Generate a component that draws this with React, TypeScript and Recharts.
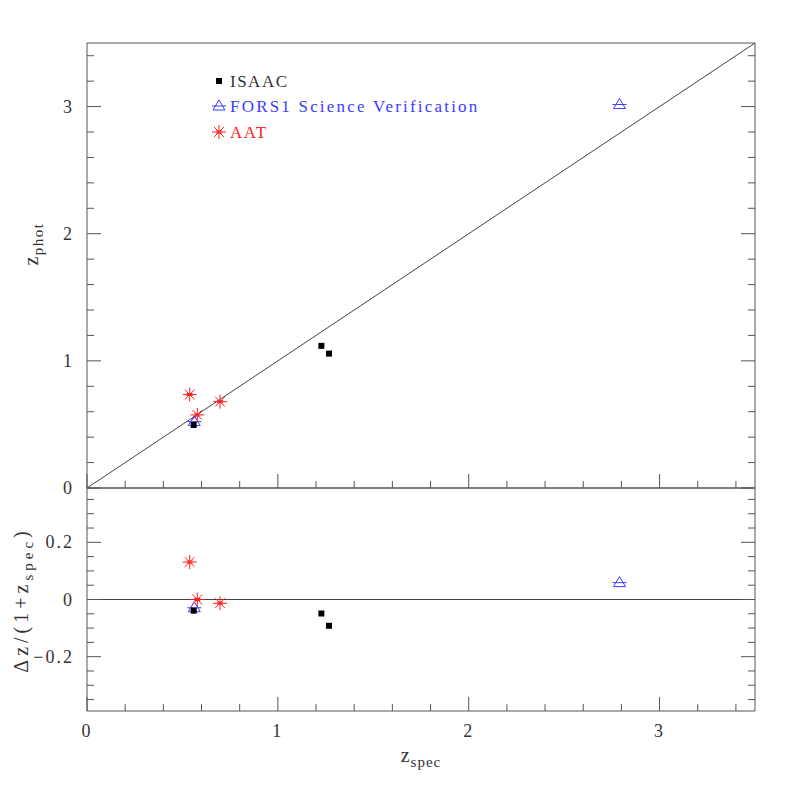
import React from 'react';
import { ScatterChart, Scatter, XAxis, YAxis, ReferenceLine } from 'recharts';

// spectroscopic z, photometric z, residual dz/(1+z)
const isaacSpec = [1.228, 1.268, 0.559];
const isaacPhot = [1.118, 1.057, 0.496];
const isaacResid = [-0.049, -0.092, -0.039];

const forsSpec = [0.562, 2.79];
const forsPhot = [0.522, 3.016];
const forsResid = [-0.029, 0.059];

const aatSpec = [0.538, 0.578, 0.697];
const aatPhot = [0.735, 0.575, 0.679];
const aatResid = [0.131, 0.0, -0.013];

const zTicks = [0, 0.2, 0.4, 0.6, 0.8, 1, 1.2, 1.4, 1.6, 1.8, 2, 2.2, 2.4, 2.6, 2.8, 3, 3.2, 3.4];
const zMajor = [0, 1, 2, 3];
const residTicks = [-0.35, -0.3, -0.25, -0.2, -0.15, -0.1, -0.05, 0, 0.05, 0.1, 0.15, 0.2, 0.25, 0.3, 0.35];
const residMajor = [-0.2, 0, 0.2];

const FRAME = '#555';
const TEXT = '#333';
const BLUE = '#3c3cff';
const RED = '#ff2020';
const FONT = '"Liberation Serif", "DejaVu Serif", serif';

const toPoints = (xs: number[], ys: number[]) => xs.map((x, i) => ({ x, y: ys[i] }));

const fmt = (v: number) => (v < 0 ? '\u2212' + String(-v) : String(v));

// inward tick marks, label outside for bottom/left
const Tick = (props: any) => {
  const { x, y, payload, side, majors, labels } = props;
  const v = payload.value;
  const major = majors.includes(v);
  const len = major ? 14 : 7;
  let line;
  if (side === 'bottom') line = <line x1={x} y1={y} x2={x} y2={y - len} stroke={FRAME} />;
  else if (side === 'top') line = <line x1={x} y1={y} x2={x} y2={y + len} stroke={FRAME} />;
  else if (side === 'left') line = <line x1={x} y1={y} x2={x + len} y2={y} stroke={FRAME} />;
  else line = <line x1={x} y1={y} x2={x - len} y2={y} stroke={FRAME} />;
  let label = null;
  if (labels && major) {
    if (side === 'bottom')
      label = (
        <text x={x} y={y + 26} textAnchor="middle" fontSize={18} fill={TEXT} fontFamily={FONT} letterSpacing={2}>
          {fmt(v)}
        </text>
      );
    if (side === 'left')
      label = (
        <text x={x - 13} y={y + 6} textAnchor="end" fontSize={18} fill={TEXT} fontFamily={FONT} letterSpacing={2}>
          {fmt(v)}
        </text>
      );
  }
  return (
    <g>
      {line}
      {label}
    </g>
  );
};

const Square = (p: any) => <rect x={p.cx - 3} y={p.cy - 3} width={6} height={6} fill="#000" />;

const Triangle = (p: any) => (
  <g stroke={BLUE} fill="none" strokeWidth={1}>
    <polygon points={`${p.cx},${p.cy - 6} ${p.cx - 6},${p.cy + 4} ${p.cx + 6},${p.cy + 4}`} />
    <line x1={p.cx - 7} y1={p.cy} x2={p.cx + 7} y2={p.cy} />
  </g>
);

const Star = (p: any) => {
  const r = 7;
  const d = r * 0.707;
  return (
    <g stroke={RED} strokeWidth={1}>
      <line x1={p.cx - r} y1={p.cy} x2={p.cx + r} y2={p.cy} />
      <line x1={p.cx} y1={p.cy - r} x2={p.cx} y2={p.cy + r} />
      <line x1={p.cx - d} y1={p.cy - d} x2={p.cx + d} y2={p.cy + d} />
      <line x1={p.cx - d} y1={p.cy + d} x2={p.cx + d} y2={p.cy - d} />
      <line x1={p.cx - 3} y1={p.cy - 1} x2={p.cx + 3} y2={p.cy - 1} />
      <line x1={p.cx - 3} y1={p.cy + 1} x2={p.cx + 3} y2={p.cy + 1} />
    </g>
  );
};

const frameAxes = (yDomain: number[], yTicks: number[], yMajor: number[], bottomLabels: boolean, bottomHeight: number) => [
  <XAxis
    key="xb"
    xAxisId={0}
    type="number"
    dataKey="x"
    domain={[0, 3.5]}
    ticks={zTicks}
    interval={0}
    height={bottomHeight}
    tickSize={0}
    tickMargin={0}
    tickLine={false}
    axisLine={{ stroke: FRAME }}
    tick={(p: any) => <Tick {...p} side="bottom" majors={zMajor} labels={bottomLabels} />}
  />,
  <XAxis
    key="xt"
    xAxisId="top"
    orientation="top"
    type="number"
    domain={[0, 3.5]}
    ticks={zTicks}
    interval={0}
    height={1}
    tickSize={0}
    tickMargin={0}
    tickLine={false}
    axisLine={{ stroke: FRAME }}
    tick={(p: any) => <Tick {...p} side="top" majors={zMajor} />}
  />,
  <YAxis
    key="yl"
    yAxisId={0}
    type="number"
    dataKey="y"
    domain={yDomain}
    ticks={yTicks}
    interval={0}
    width={1}
    tickSize={0}
    tickMargin={0}
    tickLine={false}
    allowDataOverflow
    axisLine={{ stroke: FRAME }}
    tick={(p: any) => <Tick {...p} side="left" majors={yMajor} labels />}
  />,
  <YAxis
    key="yr"
    yAxisId="right"
    orientation="right"
    type="number"
    domain={yDomain}
    ticks={yTicks}
    interval={0}
    width={1}
    tickSize={0}
    tickMargin={0}
    tickLine={false}
    allowDataOverflow
    axisLine={{ stroke: FRAME }}
    tick={(p: any) => <Tick {...p} side="right" majors={yMajor} />}
  />,
];

export default function App() {
  return (
    <div style={{ position: 'absolute', left: 0, top: 0, width: 797, height: 797, background: '#fff' }}>
      <div style={{ position: 'absolute', left: 0, top: 0 }}>
        <ScatterChart width={797} height={500} margin={{ top: 42, left: 86, right: 41, bottom: 0 }}>
          {frameAxes([0, 3.5], zTicks, zMajor, false, 12)}
          <ReferenceLine segment={[{ x: 0, y: 0 }, { x: 3.5, y: 3.5 }]} stroke="#444" strokeWidth={1} />
          <Scatter name="FORS1 Science Verification" data={toPoints(forsSpec, forsPhot)} shape={Triangle} isAnimationActive={false} />
          <Scatter name="ISAAC" data={toPoints(isaacSpec, isaacPhot)} shape={Square} isAnimationActive={false} />
          <Scatter name="AAT" data={toPoints(aatSpec, aatPhot)} shape={Star} isAnimationActive={false} />
        </ScatterChart>
      </div>
      <div style={{ position: 'absolute', left: 0, top: 478 }}>
        <ScatterChart width={797} height={319} margin={{ top: 9, left: 86, right: 41, bottom: 0 }}>
          {frameAxes([-0.39, 0.39], residTicks, residMajor, true, 86)}
          <ReferenceLine y={0} stroke="#444" strokeWidth={1} />
          <Scatter name="FORS1 Science Verification" data={toPoints(forsSpec, forsResid)} shape={Triangle} isAnimationActive={false} />
          <Scatter name="ISAAC" data={toPoints(isaacSpec, isaacResid)} shape={Square} isAnimationActive={false} />
          <Scatter name="AAT" data={toPoints(aatSpec, aatResid)} shape={Star} isAnimationActive={false} />
        </ScatterChart>
      </div>
      <svg width={797} height={797} style={{ position: 'absolute', left: 0, top: 0, pointerEvents: 'none' }} fontFamily={FONT}>
        {/* legend */}
        <Square cx={219} cy={81} />
        <text x={230} y={87} fontSize={17} fill={TEXT} letterSpacing={1.5}>ISAAC</text>
        <Triangle cx={219} cy={106} />
        <text x={230} y={112} fontSize={17} fill={BLUE} letterSpacing={2.2}>FORS1 Science Verification</text>
        <Star cx={219} cy={132} />
        <text x={230} y={138} fontSize={17} fill={RED} letterSpacing={1.5}>AAT</text>
        {/* axis titles */}
        <text transform="translate(38,244) rotate(-90)" textAnchor="middle" fontSize={20} fill={TEXT} letterSpacing={1.5}>
          z<tspan dy={5} fontSize={15}>phot</tspan>
        </text>
        <text transform="translate(28,600) rotate(-90)" textAnchor="middle" fontSize={20} fill={TEXT} letterSpacing={4}>
          {'\u0394z/(1+z'}
          <tspan dy={5} fontSize={15}>spec</tspan>
          <tspan dy={-5}>)</tspan>
        </text>
        <text x={421} y={762} textAnchor="middle" fontSize={20} fill={TEXT} letterSpacing={1}>
          z<tspan dy={5} fontSize={15}>spec</tspan>
        </text>
      </svg>
    </div>
  );
}
